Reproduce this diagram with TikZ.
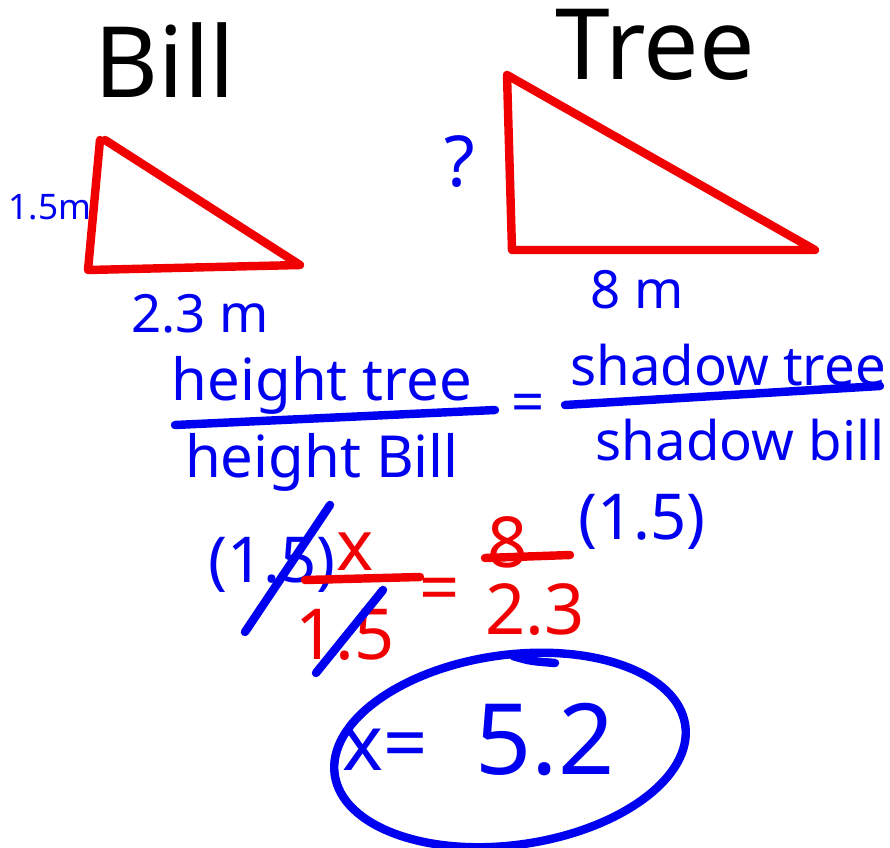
\documentclass[tikz,border=0pt]{standalone}
\usepackage{fontspec}
\setmainfont{Noto Sans}
\usepackage{xcolor}
\definecolor{inkblue}{HTML}{0000F0}
\definecolor{inkred}{HTML}{F00000}
\definecolor{inkblack}{HTML}{000000}
\newcommand{\hand}[1]{\fontsize{#1}{#1}\selectfont}

\begin{document}
\begin{tikzpicture}[
        x=0.01cm, y=0.01cm,
        title/.style={text=inkblack, font=\hand{28pt}, inner sep=0pt},
        bluetext/.style={text=inkblue, font=\hand{16.5pt}, inner sep=0pt},
        redtext/.style={text=inkred, font=\hand{20pt}, inner sep=0pt},
        smalltext/.style={text=inkblue, font=\hand{10pt}, inner sep=0pt},
        redline/.style={draw=inkred, line width=2.4pt, line cap=round, line join=round},
        blueline/.style={draw=inkblue, line width=2.4pt, line cap=round, line join=round}
    ]
        \useasboundingbox (0,0) rectangle (890,847);

        % headings
        \node[title] (bill) at (165,787) {Bill};
        \node[title] (tree) at (655,802) {Tree};

        % Bill's triangle
        \coordinate (btop) at (100,707);
        \coordinate (bleft) at (88,577);
        \coordinate (bright) at (300,582);
        \draw[redline] (btop) -- (bleft) -- (bright) -- (105,707);
        \node[smalltext] (bh) at (50,640) {1.5m};
        \node[bluetext, font=\hand{15pt}] (bs) at (200,533) {2.3 m};

        % tree's triangle
        \coordinate (ttop) at (507,772);
        \coordinate (tleft) at (512,597);
        \coordinate (tright) at (815,597);
        \draw[redline] (ttop) -- (tleft) -- (tright) -- (ttop);
        \node[bluetext, font=\hand{20pt}] (th) at (460,685) {?};
        \node[bluetext, font=\hand{15pt}] (ts) at (637,557) {8 m};

        % ratio in words
        \node[bluetext] (ht) at (322,462) {height tree};
        \node[bluetext] (hb) at (322,385) {height Bill};
        \draw[blueline] (175,422) -- (495,437);
        \node[bluetext] (eq1) at (528,439) {=};
        \node[bluetext, font=\hand{15.5pt}] (st) at (728,482) {shadow tree};
        \node[bluetext, font=\hand{15.5pt}] (sb) at (740,407) {shadow bill};
        \draw[blueline] (565,442) -- (880,461);

        % ratio in numbers
        \node[bluetext, font=\hand{18pt}] (mulleft) at (272,282) {(1.5)};
        \node[redtext] (xx) at (355,295) {x};
        \draw[redline] (305,267) -- (420,270);
        \node[redtext] (den) at (345,212) {1.5};
        \node[redtext] (eq2) at (440,252) {=};
        \node[redtext] (num) at (508,305) {8};
        \draw[redline] (485,289) -- (570,292);
        \node[redtext] (sden) at (535,237) {2.3};
        \node[bluetext, font=\hand{18pt}] (mulright) at (642,325) {(1.5)};
        \draw[blueline] (245,215) -- (330,342);
        \draw[blueline] (316,174) -- (383,257);

        % answer
        \node[bluetext, font=\hand{22pt}] (xeq) at (385,97) {x=};
        \node[bluetext, font=\hand{28pt}] (ans) at (545,107) {5.2};
        \draw[blueline] (510,97) ellipse[x radius=177, y radius=95, rotate=8];
        \draw[blueline] (513,191) .. controls (530,186) .. (555,184);
    \end{tikzpicture}
\end{document}
